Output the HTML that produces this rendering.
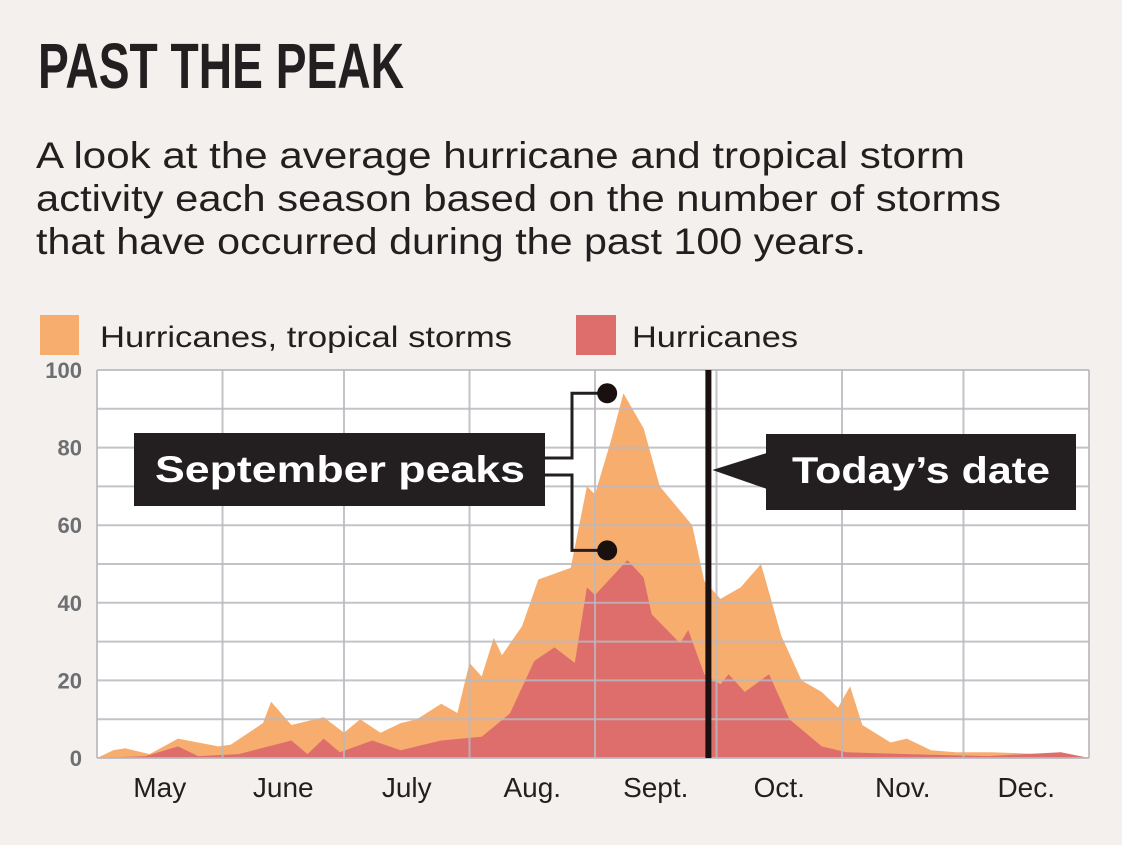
<!DOCTYPE html>
<html><head><meta charset="utf-8"><style>
html,body{margin:0;padding:0;background:#f3f0ed;}
svg{display:block;font-family:"Liberation Sans",sans-serif;}
</style></head><body>
<svg id="c" width="1122" height="845" viewBox="0 0 1122 845">
<rect width="1122" height="845" fill="#f3f0ed"/>
<text x="38" y="88" font-size="64" font-weight="bold" fill="#231f20" textLength="366" lengthAdjust="spacingAndGlyphs">PAST THE PEAK</text>
<g font-size="37" fill="#231f20">
<text x="36" y="168" textLength="929" lengthAdjust="spacingAndGlyphs">A look at the average hurricane and tropical storm</text>
<text x="36" y="211" textLength="965" lengthAdjust="spacingAndGlyphs">activity each season based on the number of storms</text>
<text x="36" y="254" textLength="830" lengthAdjust="spacingAndGlyphs">that have occurred during the past 100 years.</text>
</g>
<g>
<rect x="40" y="315" width="39" height="40" fill="#f7ad6e"/>
<text x="100" y="327" dy="20" font-size="30" fill="#231f20" textLength="412" lengthAdjust="spacingAndGlyphs">Hurricanes, tropical storms</text>
<rect x="576" y="315" width="40" height="40" fill="#de6e6c"/>
<text x="632" y="327" dy="20" font-size="30" fill="#231f20" textLength="166" lengthAdjust="spacingAndGlyphs">Hurricanes</text>
</g>
<rect x="97" y="370" width="992" height="388" fill="#ffffff"/>
<g id="areas"></g>
<g id="grid"></g>
<g id="axes"></g>
<g id="ann"></g>
</svg>
<script>
const months = ["May","June","July","Aug.","Sept.","Oct.","Nov.","Dec."];
const monthStartDays = [0,31,61,92,123,153,184,214,245];
const yTicks = [0,20,40,60,80,100];
const totalDays = [0,4,7,13,20,30,33,41,43,48,56,61,65,70,75,79,85,89,92,95,98,100,105,109,117,121,123,127,130,135,139,147,150,154,159,164,169,174,179,183,186,189,196,200,206,212,221,233,238,245];
const totalVals = [0,2,2.5,1,5,3,3.4,9,14.5,8.5,10.5,6.5,10,6.5,9,10,14,11.6,24.5,21,31,26.5,34,46,49,70,68,82,94,85,70,60,45.6,41,44,50,31.5,20,17,13,18.5,8.5,4,5,2,1.5,1.5,1,1.5,0];
const hurrDays = [0,12,20,25,35,48,52,56,60,68,75,85,95,102,108,113,118,121,123,131,135,137,144,146,150,154,156,160,166,171,179,185,200,220,238,245];
const hurrVals = [0,0.5,3,0.5,1,4.5,1,5,1.5,4.5,2,4.5,5.5,11.5,25,28.5,24.5,44,42,51,46.5,37,29.6,33,21.6,19,21.6,17,21.6,10,3,1.5,1,0.5,1.5,0];
const todayDay = 151;

const X0=97,X1=1089,Y0=758,Y1=370;
const xs = d => X0 + d/245*(X1-X0);
const ys = v => Y0 - v/100*(Y0-Y1);
const NS="http://www.w3.org/2000/svg";
function mk(tag,attrs,parent){const e=document.createElementNS(NS,tag);for(const k in attrs)e.setAttribute(k,attrs[k]);parent.appendChild(e);return e;}
const areas=document.getElementById('areas'),grid=document.getElementById('grid'),axes=document.getElementById('axes'),ann=document.getElementById('ann');
function areaPath(days,vals){let d=`M${xs(days[0])},${ys(0)}`;days.forEach((dd,i)=>{d+=` L${xs(dd).toFixed(1)},${ys(vals[i]).toFixed(1)}`;});d+=` L${xs(days[days.length-1])},${ys(0)} Z`;return d;}
const a1=mk('path',{d:areaPath(totalDays,totalVals),fill:'#f7ad6e'},areas);


const a2=mk('path',{d:areaPath(hurrDays,hurrVals),fill:'#de6e6c'},areas);


for(let v=0;v<=100;v+=10){const l=mk('line',{x1:X0,x2:X1,y1:ys(v),y2:ys(v),stroke:'#b9b9bf','stroke-width':2,opacity:0.85},grid);

}
monthStartDays.forEach(d=>{const l=mk('line',{x1:xs(d),x2:xs(d),y1:Y1,y2:Y0,stroke:'#b9b9bf','stroke-width':2,opacity:0.85},grid);

});
yTicks.forEach(v=>{const t=mk('text',{x:82,y:ys(v)+8,'text-anchor':'end','font-size':22,'font-weight':'bold',fill:'#6d6e71'},axes);t.textContent=v;

});
months.forEach((m,i)=>{const c=(xs(monthStartDays[i])+xs(monthStartDays[i+1]))/2;const t=mk('text',{x:c,y:797,'text-anchor':'middle','font-size':28,fill:'#231f20'},axes);t.textContent=m;

});
const tx=xs(todayDay);
const tl=mk('line',{x1:tx,x2:tx,y1:Y1,y2:Y0,stroke:'#1a1010','stroke-width':6},ann);


const tp=mk('polygon',{points:`${tx+4},470 770,452 770,490`,fill:'#231f20'},ann);


const tb=mk('rect',{x:766,y:434,width:310,height:76,fill:'#231f20'},ann);


const tt=mk('text',{x:921,y:483,'text-anchor':'middle','font-size':37,'font-weight':'bold',fill:'#fff',textLength:258,lengthAdjust:'spacingAndGlyphs'},ann);tt.textContent="Today’s date";


const sb=mk('rect',{x:134,y:433,width:411,height:73,fill:'#231f20'},ann);


const st=mk('text',{x:340,y:482,'text-anchor':'middle','font-size':37,'font-weight':'bold',fill:'#fff',textLength:370,lengthAdjust:'spacingAndGlyphs'},ann);st.textContent="September peaks";


const pk1x=xs(126),pk1y=ys(94),pk2y=ys(53.5);
const c1=mk('polyline',{points:`545,458 572,458 572,${pk1y} ${pk1x},${pk1y}`,fill:'none',stroke:'#231f20','stroke-width':3},ann);


const c2=mk('polyline',{points:`545,475 572,475 572,${pk2y} ${pk1x},${pk2y}`,fill:'none',stroke:'#231f20','stroke-width':3},ann);


const d1=mk('circle',{cx:pk1x,cy:pk1y,r:10,fill:'#1a1010'},ann);


const d2=mk('circle',{cx:pk1x,cy:pk2y,r:10,fill:'#1a1010'},ann);


</script>
</body></html>
